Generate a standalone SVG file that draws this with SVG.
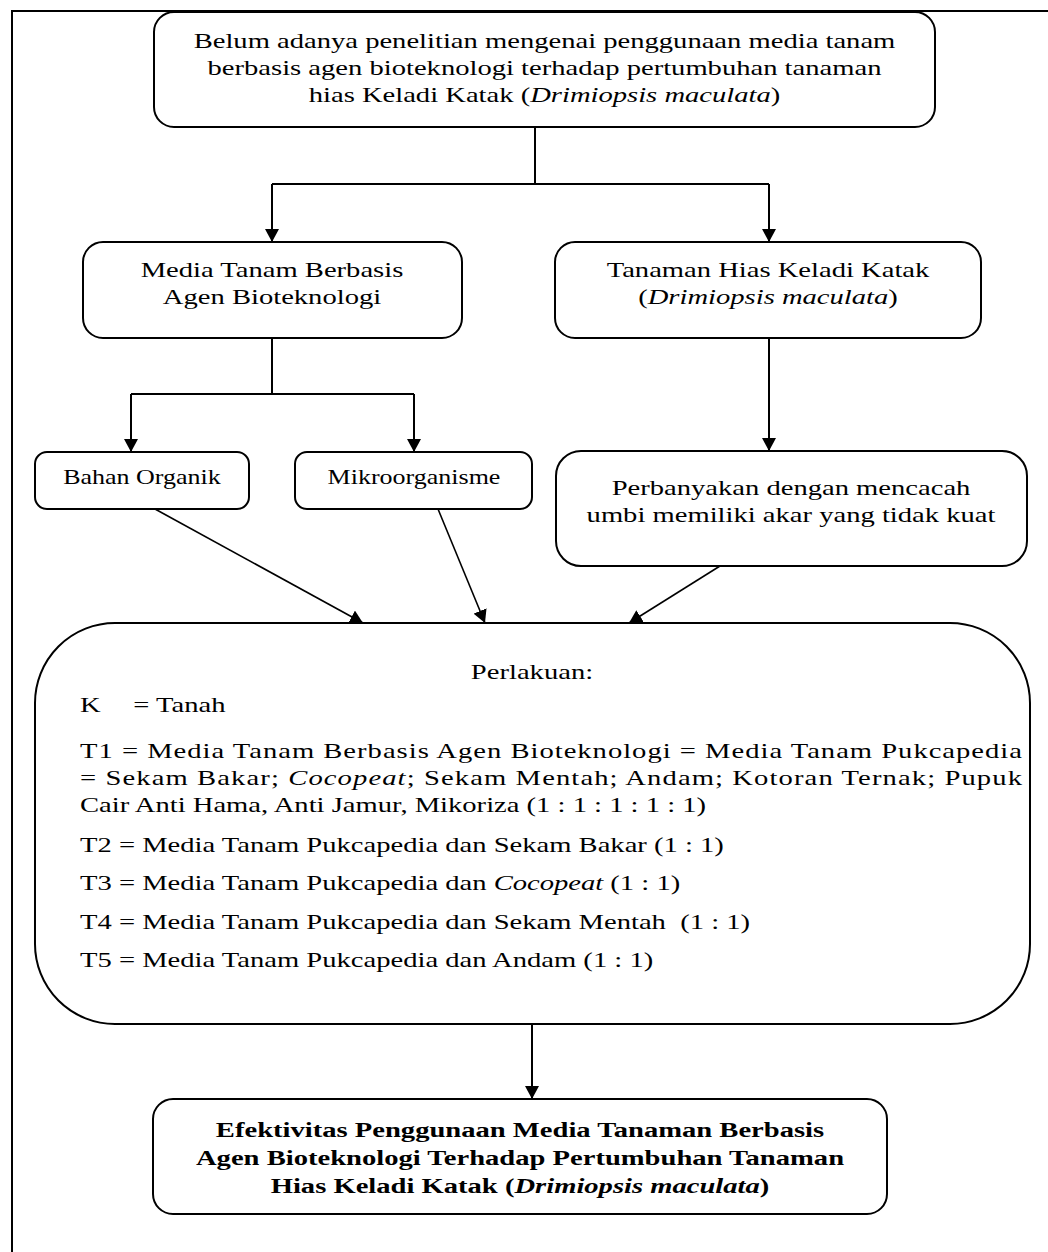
<svg xmlns="http://www.w3.org/2000/svg" width="1048" height="1252" viewBox="0 0 1048 1252">
<defs>
<marker id="ah" markerUnits="userSpaceOnUse" markerWidth="14" markerHeight="14" refX="13" refY="7" orient="auto">
<path d="M0,0 L13,7 L0,14 z" fill="#000"/>
</marker>
<style>
.box{fill:#fff;stroke:#000;stroke-width:2}
.ln{fill:none;stroke:#000;stroke-width:2}
.dg{fill:none;stroke:#000;stroke-width:1.6}
.t{font-family:"Liberation Serif","Times New Roman",serif;font-size:22px;fill:#000}
.s{font-family:"Liberation Serif","Times New Roman",serif;font-size:20px;fill:#000}
.b{font-family:"Liberation Serif","Times New Roman",serif;font-size:22px;font-weight:bold;fill:#000}
.c{text-anchor:middle}
</style>
</defs>
<rect x="0" y="0" width="1048" height="1252" fill="#fff"/>
<g id="frame">
<path d="M12,1252 L12,11 L1048,11" fill="none" stroke="#000" stroke-width="2"/>
</g>
<g id="connectors">
<path class="ln" d="M535,127 L535,184"/>
<path class="ln" d="M272,184 L769,184"/>
<path class="ln" d="M272,184 L272,242" marker-end="url(#ah)"/>
<path class="ln" d="M769,184 L769,242" marker-end="url(#ah)"/>
<path class="ln" d="M272,338 L272,394"/>
<path class="ln" d="M131,394 L414,394"/>
<path class="ln" d="M131,394 L131,452" marker-end="url(#ah)"/>
<path class="ln" d="M414,394 L414,452" marker-end="url(#ah)"/>
<path class="ln" d="M769,338 L769,451" marker-end="url(#ah)"/>
<path class="dg" d="M155,509 L363,623" marker-end="url(#ah)"/>
<path class="dg" d="M438,509 L485,623" marker-end="url(#ah)"/>
<path class="dg" d="M720,566 L629,623" marker-end="url(#ah)"/>
<path class="ln" d="M532,1024 L532,1099" marker-end="url(#ah)"/>
</g>
<g id="n_top">
<rect class="box" x="154" y="12" width="781" height="115" rx="20"/>
<text class="t c" transform="translate(544.5,48) scale(1.3,1)">Belum adanya penelitian mengenai penggunaan media tanam</text>
<text class="t c" transform="translate(544.5,75) scale(1.3,1)">berbasis agen bioteknologi terhadap pertumbuhan tanaman</text>
<text class="t c" transform="translate(544.5,102) scale(1.3,1)">hias Keladi Katak (<tspan font-style="italic">Drimiopsis maculata</tspan>)</text>
</g>
<g id="n_media">
<rect class="box" x="83" y="242" width="379" height="96" rx="20"/>
<text class="t c" transform="translate(272,277) scale(1.3,1)">Media Tanam Berbasis</text>
<text class="t c" transform="translate(272,304) scale(1.3,1)">Agen Bioteknologi</text>
</g>
<g id="n_tanaman">
<rect class="box" x="555" y="242" width="426" height="96" rx="20"/>
<text class="t c" transform="translate(768,277) scale(1.3,1)">Tanaman Hias Keladi Katak</text>
<text class="t c" transform="translate(768,304) scale(1.3,1)">(<tspan font-style="italic">Drimiopsis maculata</tspan>)</text>
</g>
<g id="n_bahan">
<rect class="box" x="35" y="452" width="214" height="57" rx="12"/>
<text class="s c" transform="translate(142,484) scale(1.3,1)">Bahan Organik</text>
</g>
<g id="n_mikro">
<rect class="box" x="295" y="452" width="237" height="57" rx="12"/>
<text class="s c" transform="translate(414,484) scale(1.3,1)">Mikroorganisme</text>
</g>
<g id="n_perbanyakan">
<rect class="box" x="556" y="451" width="471" height="115" rx="25"/>
<text class="t c" transform="translate(791,495) scale(1.3,1)">Perbanyakan dengan mencacah</text>
<text class="t c" transform="translate(791,522) scale(1.3,1)">umbi memiliki akar yang tidak kuat</text>
</g>
<g id="n_perlakuan">
<rect class="box" x="35" y="623" width="995" height="401" rx="80"/>
<text class="t c" transform="translate(532,679) scale(1.3,1)">Perlakuan:</text>
<text class="t" transform="translate(80,712) scale(1.3,1)">K<tspan x="41">= Tanah</tspan></text>
<text class="t" transform="translate(80,758) scale(1.3,1)" textLength="724.6">T1 = Media Tanam Berbasis Agen Bioteknologi = Media Tanam Pukcapedia</text>
<text class="t" transform="translate(80,785) scale(1.3,1)" textLength="724.6">= Sekam Bakar; <tspan font-style="italic">Cocopeat</tspan>; Sekam Mentah; Andam; Kotoran Ternak; Pupuk</text>
<text class="t" transform="translate(80,812) scale(1.3,1)">Cair Anti Hama, Anti Jamur, Mikoriza (1 : 1 : 1 : 1 : 1)</text>
<text class="t" transform="translate(80,852) scale(1.3,1)">T2 = Media Tanam Pukcapedia dan Sekam Bakar (1 : 1)</text>
<text class="t" transform="translate(80,890) scale(1.3,1)">T3 = Media Tanam Pukcapedia dan <tspan font-style="italic">Cocopeat</tspan> (1 : 1)</text>
<text class="t" transform="translate(80,929) scale(1.3,1)" xml:space="preserve">T4 = Media Tanam Pukcapedia dan Sekam Mentah  (1 : 1)</text>
<text class="t" transform="translate(80,967) scale(1.3,1)">T5 = Media Tanam Pukcapedia dan Andam (1 : 1)</text>
</g>
<g id="n_hasil">
<rect class="box" x="153" y="1099" width="734" height="115" rx="20"/>
<text class="b c" transform="translate(520,1137) scale(1.3,1)">Efektivitas Penggunaan Media Tanaman Berbasis</text>
<text class="b c" transform="translate(520,1165) scale(1.3,1)">Agen Bioteknologi Terhadap Pertumbuhan Tanaman</text>
<text class="b c" transform="translate(520,1193) scale(1.3,1)">Hias Keladi Katak (<tspan font-style="italic">Drimiopsis maculata</tspan>)</text>
</g>
</svg>
